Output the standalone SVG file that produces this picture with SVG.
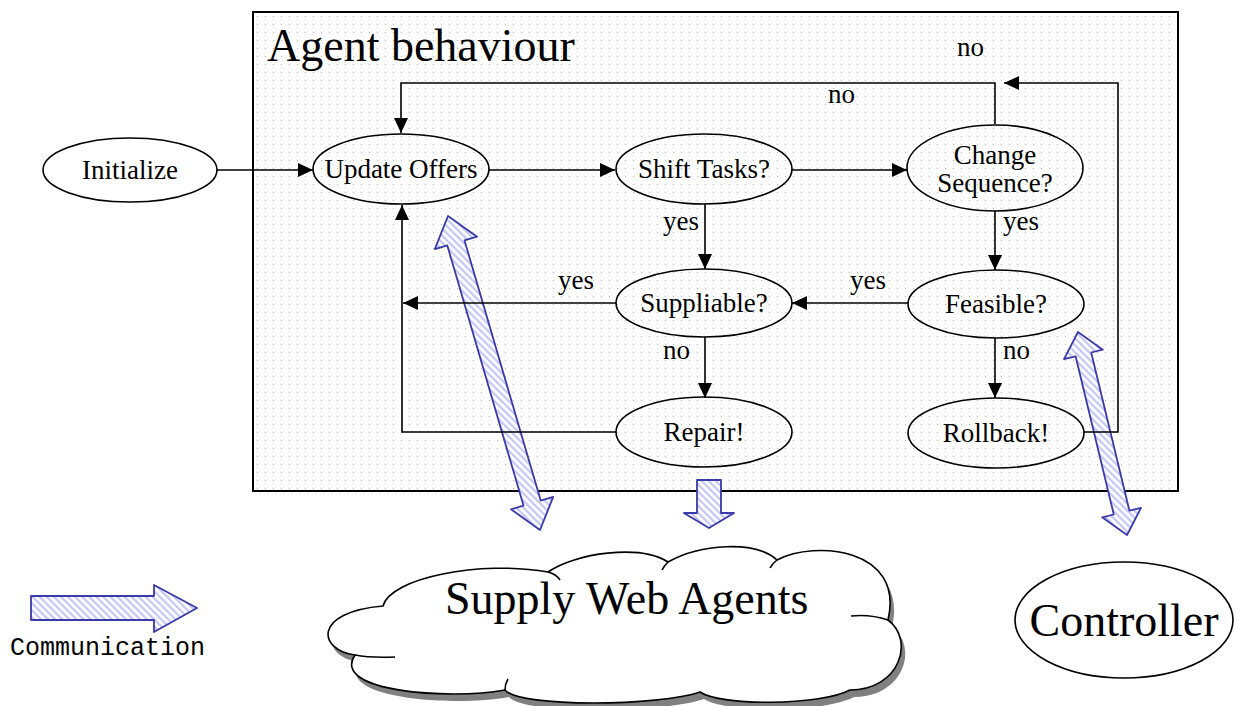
<svg xmlns="http://www.w3.org/2000/svg" width="1236" height="706" viewBox="0 0 1236 706">
<defs>
  <pattern id="dots" patternUnits="userSpaceOnUse" x="253" y="12" width="8" height="8">
    <rect x="4" y="4" width="1" height="1" fill="#b4b4b4"/>
  </pattern>
  <pattern id="hatch" patternUnits="userSpaceOnUse" width="5" height="5" patternTransform="rotate(-45)">
    <rect width="5" height="5" fill="#ffffff"/>
    <rect width="2.2" height="5" fill="#c4c8f6"/>
  </pattern>
  <marker id="arr" markerUnits="userSpaceOnUse" markerWidth="16" markerHeight="16" refX="15" refY="7" orient="auto">
    <path d="M0,0 L15,7 L0,14 Z" fill="#000"/>
  </marker>
  <style>
    .lbl{font-family:"Liberation Serif","Times New Roman",serif;font-size:27px;fill:#000}
    .big{font-family:"Liberation Serif","Times New Roman",serif;font-size:46px;fill:#000}
    .node{fill:none;stroke:#000;stroke-width:1.6}
    .con{fill:none;stroke:#000;stroke-width:1.6}
    .comm{fill:url(#hatch);stroke:#3a3aa8;stroke-width:1.8;stroke-linejoin:round}
  </style>
</defs>
<rect width="1236" height="706" fill="#fff"/>

<g id="agent-behaviour">
  <rect x="253" y="12" width="925" height="479" fill="#fff"/>
  <rect x="253" y="12" width="925" height="479" fill="url(#dots)" stroke="#000" stroke-width="2"/>
  <text class="big" x="267" y="61">Agent behaviour</text>
</g>

<g id="communication-arrows">
  <polygon class="comm" points="448,216 477,236.7 464.5,240.4 540.7,500.6 553.2,496.9 540,530 511,509.3 523.5,505.6 447.3,245.4 434.8,249.1"/>
  <polygon class="comm" points="1078,332 1102.8,349.7 1091.2,352.5 1129.4,510.7 1141,507.9 1127,535 1102.2,517.3 1113.8,514.5 1075.6,356.3 1064,359.1"/>
  <polygon class="comm" points="697,480 721,480 721,513 734,513 709,528 684,513 697,513"/>
</g>

<g id="connectors">
  <line class="con" x1="217" y1="170" x2="313" y2="170" marker-end="url(#arr)"/>
  <line class="con" x1="489" y1="170" x2="615" y2="170" marker-end="url(#arr)"/>
  <line class="con" x1="792" y1="170" x2="907" y2="170" marker-end="url(#arr)"/>
  <polyline class="con" points="995,124 995,83 401,83 401,133" marker-end="url(#arr)"/>
  <line class="con" x1="705" y1="204" x2="705" y2="269" marker-end="url(#arr)"/>
  <line class="con" x1="995" y1="211" x2="995" y2="270" marker-end="url(#arr)"/>
  <line class="con" x1="908" y1="303" x2="792" y2="303" marker-end="url(#arr)"/>
  <line class="con" x1="616" y1="303" x2="403" y2="303" marker-end="url(#arr)"/>
  <line class="con" x1="705" y1="337" x2="705" y2="398" marker-end="url(#arr)"/>
  <line class="con" x1="995" y1="338" x2="995" y2="398" marker-end="url(#arr)"/>
  <polyline class="con" points="616,432 402,432 402,205" marker-end="url(#arr)"/>
  <polyline class="con" points="1084,432 1118,432 1118,83 1004,83" marker-end="url(#arr)"/>
  <text class="lbl" x="957" y="56">no</text>
  <text class="lbl" x="828" y="103">no</text>
  <text class="lbl" x="663" y="230">yes</text>
  <text class="lbl" x="1003" y="230">yes</text>
  <text class="lbl" x="558" y="289">yes</text>
  <text class="lbl" x="850" y="289">yes</text>
  <text class="lbl" x="663" y="359">no</text>
  <text class="lbl" x="1003" y="359">no</text>
</g>

<g id="initialize">
  <ellipse class="node" cx="130" cy="170" rx="87" ry="32"/>
  <text class="lbl" x="130" y="179" text-anchor="middle">Initialize</text>
</g>
<g id="update-offers">
  <ellipse class="node" cx="401" cy="169" rx="88" ry="35"/>
  <text class="lbl" x="401" y="178" text-anchor="middle">Update Offers</text>
</g>
<g id="shift-tasks">
  <ellipse class="node" cx="704" cy="169" rx="88" ry="35"/>
  <text class="lbl" x="704" y="178" text-anchor="middle">Shift Tasks?</text>
</g>
<g id="change-sequence">
  <ellipse class="node" cx="995" cy="168" rx="88" ry="43"/>
  <text class="lbl" x="995" y="164" text-anchor="middle">Change</text>
  <text class="lbl" x="995" y="192" text-anchor="middle">Sequence?</text>
</g>
<g id="suppliable">
  <ellipse class="node" cx="704" cy="303" rx="88" ry="34"/>
  <text class="lbl" x="704" y="312" text-anchor="middle">Suppliable?</text>
</g>
<g id="feasible">
  <ellipse class="node" cx="996" cy="304" rx="88" ry="34"/>
  <text class="lbl" x="996" y="313" text-anchor="middle">Feasible?</text>
</g>
<g id="repair">
  <ellipse class="node" cx="704" cy="432" rx="88" ry="35"/>
  <text class="lbl" x="704" y="441" text-anchor="middle">Repair!</text>
</g>
<g id="rollback">
  <ellipse class="node" cx="996" cy="433" rx="88" ry="35"/>
  <text class="lbl" x="996" y="442" text-anchor="middle">Rollback!</text>
</g>

<g id="supply-web-agents">
  <path transform="translate(4,7)" fill="#808080" d="M355,655 C318,650 312,612 383,606 C390,578 480,560 548,572 C575,553 640,544 668,562 C700,544 755,540 777,560 C815,540 905,548 888,620 C915,640 900,690 850,690 C820,706 720,706 700,692 C660,706 520,708 505,690 C450,700 330,692 355,655 Z"/>
  <path fill="#fff" stroke="#000" stroke-width="1.6" d="M355,655 C318,650 312,612 383,606 C390,578 480,560 548,572 C575,553 640,544 668,562 C700,544 755,540 777,560 C815,540 905,548 888,620 C915,640 900,690 850,690 C820,706 720,706 700,692 C660,706 520,708 505,690 C450,700 330,692 355,655 Z"/>
  <path fill="none" stroke="#000" stroke-width="1.6" d="M548,572 Q556,574 560,580 M668,562 Q664,566 662,570 M777,560 Q772,564 770,568 M888,620 Q870,614 851,616 M355,655 Q370,658 395,657 M505,690 Q505,684 508,679"/>
  <text class="big" x="445" y="614">Supply Web Agents</text>
</g>

<g id="controller">
  <ellipse cx="1124" cy="620" rx="109" ry="58" fill="#fff" stroke="#000" stroke-width="1.6"/>
  <text class="big" x="1124" y="636" text-anchor="middle">Controller</text>
</g>

<g id="legend">
  <polygon class="comm" points="31,596 154,596 154,585 197,608 154,632 154,620 31,620"/>
  <text x="10" y="655" font-family="Liberation Mono, Courier New, monospace" font-size="25" fill="#000">Communication</text>
</g>
</svg>
